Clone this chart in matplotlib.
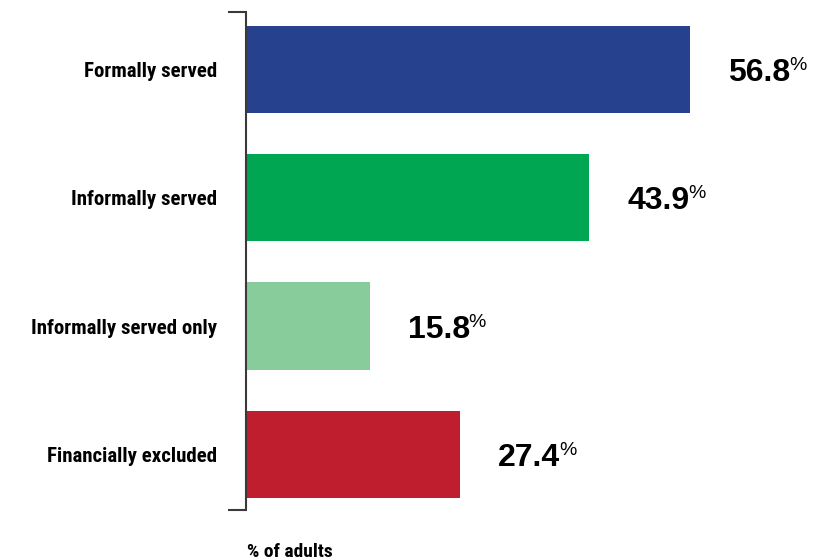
import matplotlib
matplotlib.use("Agg")
import matplotlib.pyplot as plt

categories = ["Formally served", "Informally served", "Informally served only", "Financially excluded"]
values = [56.8, 43.9, 15.8, 27.4]
colors = ["#26418e", "#00a651", "#88cc9c", "#be1e2d"]

cond = ["Roboto Condensed", "Liberation Sans"]

fig = plt.figure(figsize=(8.27, 5.6), dpi=100)
ax = fig.add_axes([246 / 827, 1 - 510 / 560, 1 - 246 / 827, 498 / 560])

pos = list(range(len(categories)))[::-1]
ax.barh(pos, values, height=0.68, color=colors, left=0)

ax.set_xlim(0, 56.8 * 581 / 444)
ax.set_ylim(-0.434, 3.449)

for s in ["top", "right", "bottom"]:
    ax.spines[s].set_visible(False)
ax.spines["left"].set_color("#3a3a3a")
ax.spines["left"].set_linewidth(1.5)
ax.set_xticks([])
ax.set_yticks(pos)
ax.set_yticklabels(categories, fontfamily=cond, fontweight="bold", fontsize=15)
ax.tick_params(axis="y", length=0, pad=29 * 0.72)

# bracket ends on the axis line
for yy in (0, 1):
    ax.plot([-18 / 581, 0], [yy, yy], transform=ax.transAxes, color="#3a3a3a",
            lw=1.5, clip_on=False, solid_capstyle="butt")

fig.canvas.draw()
renderer = fig.canvas.get_renderer()
for p, v in zip(pos, values):
    t = ax.annotate(f"{v}", xy=(v, p), xytext=(38 * 0.72, -11.5 * 0.72),
                    textcoords="offset points", ha="left", va="baseline",
                    fontfamily="Liberation Sans", fontweight="bold", fontsize=23)
    bb = t.get_window_extent(renderer)
    x_end, _ = ax.transData.inverted().transform((bb.x1, bb.y0))
    ax.annotate("%", xy=(x_end, p), xytext=(-1.5 * 0.72, -0.5 * 0.72),
                textcoords="offset points", ha="left", va="baseline",
                fontfamily="Liberation Sans", fontsize=14)

fig.text(247 / 827, 1 - 557 / 560, "% of adults", ha="left", va="baseline",
         fontfamily=cond, fontweight="bold", fontsize=14)

fig.savefig("out.png", dpi=100)
